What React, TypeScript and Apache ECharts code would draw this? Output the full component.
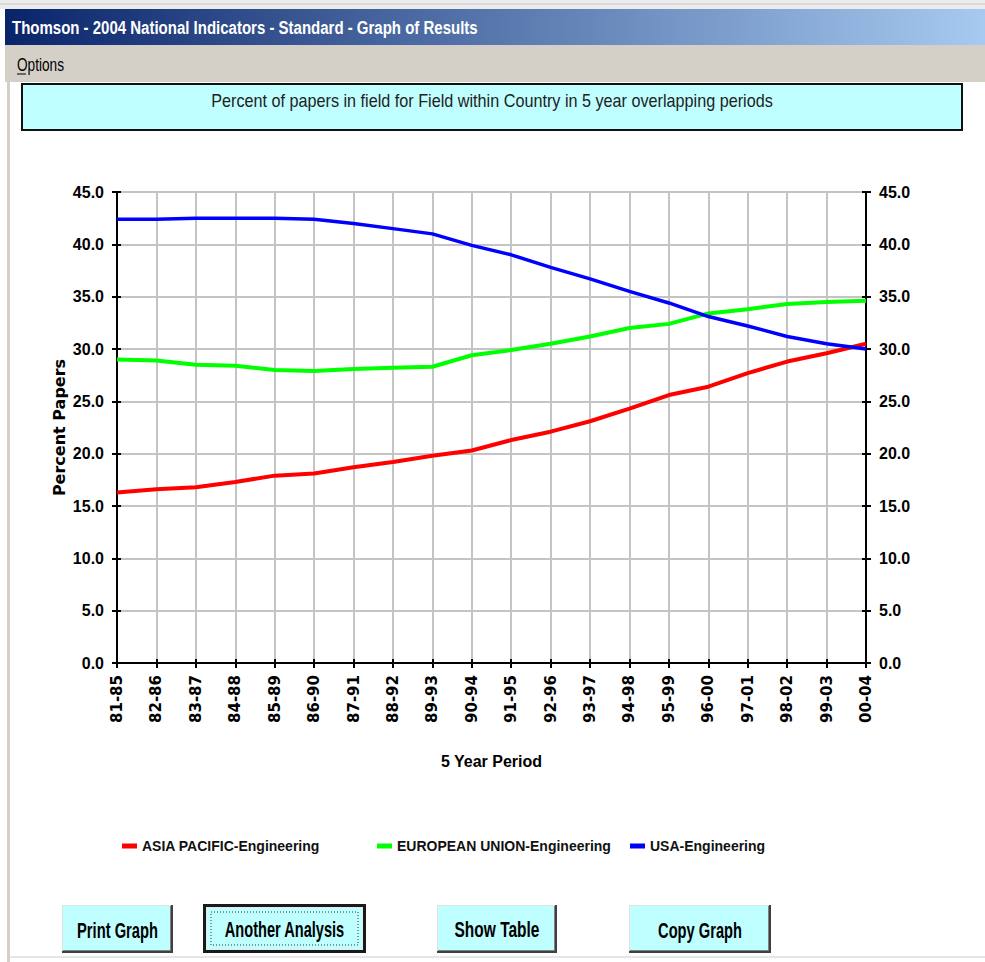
import React, { useEffect, useRef } from "react";
import * as echarts from "echarts";

const categories = ["81-85", "82-86", "83-87", "84-88", "85-89", "86-90", "87-91", "88-92", "89-93", "90-94", "91-95", "92-96", "93-97", "94-98", "95-99", "96-00", "97-01", "98-02", "99-03", "00-04"];
const asiaPacific = [16.3, 16.6, 16.8, 17.3, 17.9, 18.1, 18.7, 19.2, 19.8, 20.3, 21.3, 22.1, 23.1, 24.3, 25.6, 26.4, 27.7, 28.8, 29.6, 30.5];
const europeanUnion = [29.0, 28.9, 28.5, 28.4, 28.0, 27.9, 28.1, 28.2, 28.3, 29.4, 29.9, 30.5, 31.2, 32.0, 32.4, 33.4, 33.8, 34.3, 34.5, 34.6];
const usa = [42.4, 42.4, 42.5, 42.5, 42.5, 42.4, 42.0, 41.5, 41.0, 39.9, 39.0, 37.8, 36.7, 35.5, 34.4, 33.1, 32.2, 31.2, 30.5, 30.0];
const seriesNames = ["ASIA PACIFIC-Engineering", "EUROPEAN UNION-Engineering", "USA-Engineering"];
const seriesColors = ["#ff0000", "#00ff00", "#0000ff"];
const yTicks = { min: 0, max: 45, interval: 5 };
const windowTitle = "Thomson - 2004 National Indicators - Standard - Graph of Results";
const chartTitle = "Percent of papers in field for Field within Country in 5 year overlapping periods";
const buttonLabels = ["Print Graph", "Another Analysis", "Show Table", "Copy Graph"];

const SANS = "'Liberation Sans', Arial, sans-serif";

function measure(text: string, font: string): number {
  const c = document.createElement("canvas").getContext("2d")!;
  c.font = font;
  return c.measureText(text).width || 1;
}

function fitText(text: string, x: number, y: number, w: number, size: number, o: any = {}) {
  const weight = o.weight || "normal";
  const font = `${weight} ${size}px "Liberation Sans", Arial, sans-serif`;
  const mw = measure(text, font);
  const align = o.align || "left";
  return {
    type: "text",
    x,
    y,
    scaleX: w / mw,
    scaleY: o.scaleY || 1.3,
    z: 10,
    style: {
      text,
      font,
      fill: o.color || "#000",
      textAlign: align,
      align,
      textVerticalAlign: "middle",
      verticalAlign: "middle",
    },
  };
}

function button(x: number, y: number, w: number, h: number, label: string, textW: number, focused: boolean) {
  const els: any[] = [];
  if (focused) {
    els.push({ type: "rect", shape: { x, y, width: w, height: h }, style: { fill: "#1a1a1a" } });
    els.push({ type: "rect", shape: { x: x + 3, y: y + 3, width: w - 6, height: h - 6 }, style: { fill: "#e8e8e8" } });
    els.push({ type: "rect", shape: { x: x + 4, y: y + 4, width: w - 8, height: h - 8 }, style: { fill: "#c0ffff" } });
    els.push({
      type: "rect",
      shape: { x: x + 8, y: y + 8, width: w - 16, height: h - 16 },
      style: { fill: "none", stroke: "#333", lineWidth: 1, lineDash: [1, 2] },
    });
  } else {
    els.push({ type: "rect", shape: { x, y, width: w, height: h }, style: { fill: "#404040" } });
    els.push({ type: "rect", shape: { x, y, width: w - 2, height: h - 2 }, style: { fill: "#e0e0e0" } });
    els.push({ type: "rect", shape: { x: x + 1, y: y + 1, width: w - 3, height: h - 3 }, style: { fill: "#808080" } });
    els.push({ type: "rect", shape: { x: x + 1, y: y + 1, width: w - 4, height: h - 4 }, style: { fill: "#c0ffff" } });
  }
  els.push(fitText(label, x + w / 2, y + h / 2 + 1, textW, 16, { weight: "bold", align: "center", scaleY: 1.35 }));
  return els;
}

export default function App() {
  const ref = useRef<HTMLDivElement>(null);
  useEffect(() => {
    if (!ref.current) return;
    const chart = echarts.init(ref.current, undefined, { renderer: "svg" });
    const graphic: any[] = [
      { type: "rect", shape: { x: 0, y: 0, width: 985, height: 9 }, style: { fill: "#ececec" } },
      { type: "line", shape: { x1: 0, y1: 4, x2: 985, y2: 4 }, style: { stroke: "#c8c8c8", lineWidth: 1 } },
      {
        type: "rect",
        shape: { x: 5, y: 9, width: 980, height: 36 },
        style: {
          fill: new echarts.graphic.LinearGradient(0, 0, 1, 0, [
            { offset: 0, color: "#0a246a" },
            { offset: 1, color: "#a6caf0" },
          ]),
        },
      },
      fitText(windowTitle, 12, 28, 466, 14, { weight: "bold", color: "#ffffff", scaleY: 1.35 }),
      { type: "rect", shape: { x: 5, y: 45, width: 980, height: 37 }, style: { fill: "#d4d0c8" } },
      fitText("Options", 17, 65, 47, 13, { color: "#000", scaleY: 1.35 }),
      { type: "line", shape: { x1: 17, y1: 74, x2: 26, y2: 74 }, style: { stroke: "#000", lineWidth: 1 } },
      { type: "rect", shape: { x: 7, y: 82, width: 3, height: 880 }, style: { fill: "#d4d0c8" } },
      { type: "line", shape: { x1: 10, y1: 957, x2: 985, y2: 957 }, style: { stroke: "#e6e6e6", lineWidth: 2 } },
      {
        type: "rect",
        shape: { x: 22, y: 84, width: 940, height: 46 },
        style: { fill: "#c0ffff", stroke: "#111", lineWidth: 2 },
      },
      fitText(chartTitle, 492, 101, 562, 14, { color: "#222", align: "center", scaleY: 1.35 }),
      ...button(62, 905, 111, 48, buttonLabels[0], 81, false),
      ...button(203, 904, 163, 49, buttonLabels[1], 120, true),
      ...button(437, 905, 120, 48, buttonLabels[2], 85, false),
      ...button(629, 905, 142, 48, buttonLabels[3], 84, false),
    ];

    const axisLabelY = { fontFamily: SANS, fontWeight: "bold", fontSize: 16, color: "#000", formatter: (v: number) => v.toFixed(1) };
    const blackLine = { color: "#000", width: 2 };
    const legendLefts = [117, 372, 625];

    chart.setOption({
      animation: false,
      backgroundColor: "#ffffff",
      graphic,
      grid: { left: 117, right: 119, top: 192, bottom: 299, containLabel: false },
      legend: seriesNames.map((n, i) => ({
        data: [n],
        left: legendLefts[i],
        top: 834,
        icon: "rect",
        itemWidth: 15,
        itemHeight: 5,
        selectedMode: false,
        textStyle: { fontFamily: SANS, fontWeight: "bold", fontSize: 14, color: "#111" },
      })),
      xAxis: [
        {
          type: "category",
          data: categories,
          boundaryGap: false,
          axisLine: { show: true, lineStyle: blackLine },
          axisTick: { show: true, length: 5, interval: 0, lineStyle: blackLine },
          axisLabel: { interval: 0, rotate: 90, margin: 12, fontFamily: "DejaVu Sans", fontWeight: "bold", fontSize: 15, color: "#000" },
          splitLine: { show: true, interval: 0, lineStyle: { color: "#c4c4c4", width: 2 } },
          name: "5 Year Period",
          nameLocation: "middle",
          nameGap: 90,
          nameMoveOverlap: false,
          nameTextStyle: { fontFamily: SANS, fontWeight: "bold", fontSize: 16, color: "#000" },
        },
        {
          type: "category",
          data: categories,
          boundaryGap: false,
          position: "bottom",
          axisLine: { show: false },
          axisTick: { show: true, inside: true, length: 4, interval: 0, lineStyle: blackLine },
          axisLabel: { show: false },
          splitLine: { show: false },
        },
      ],
      yAxis: [
        {
          type: "value",
          position: "left",
          ...yTicks,
          axisLine: { show: true, lineStyle: blackLine },
          axisTick: { show: true, length: 5, lineStyle: blackLine },
          axisLabel: { ...axisLabelY, margin: 13 },
          splitLine: { show: true, lineStyle: { color: "#c4c4c4", width: 2 } },
          name: "Percent Papers",
          nameLocation: "middle",
          nameRotate: 90,
          nameGap: 50,
          nameMoveOverlap: false,
          nameTextStyle: { fontFamily: "DejaVu Sans", fontWeight: "bold", fontSize: 16, color: "#000" },
        },
        {
          type: "value",
          position: "right",
          ...yTicks,
          axisLine: { show: true, lineStyle: blackLine },
          axisTick: { show: true, length: 5, lineStyle: blackLine },
          axisLabel: { ...axisLabelY, margin: 13 },
          splitLine: { show: false },
        },
        {
          type: "value",
          position: "left",
          ...yTicks,
          axisLine: { show: false },
          axisTick: { show: true, inside: true, length: 4, lineStyle: blackLine },
          axisLabel: { show: false },
          splitLine: { show: false },
        },
        {
          type: "value",
          position: "right",
          ...yTicks,
          axisLine: { show: false },
          axisTick: { show: true, inside: true, length: 4, lineStyle: blackLine },
          axisLabel: { show: false },
          splitLine: { show: false },
        },
      ],
      series: [asiaPacific, europeanUnion, usa].map((d, i) => ({
        name: seriesNames[i],
        type: "line",
        data: d,
        xAxisIndex: 0,
        yAxisIndex: 0,
        showSymbol: false,
        symbol: "none",
        color: seriesColors[i],
        lineStyle: { color: seriesColors[i], width: i === 2 ? 3.5 : 4 },
      })),
    });
    return () => chart.dispose();
  }, []);
  return <div ref={ref} style={{ position: "absolute", left: 0, top: 0, width: 985, height: 962 }} />;
}
